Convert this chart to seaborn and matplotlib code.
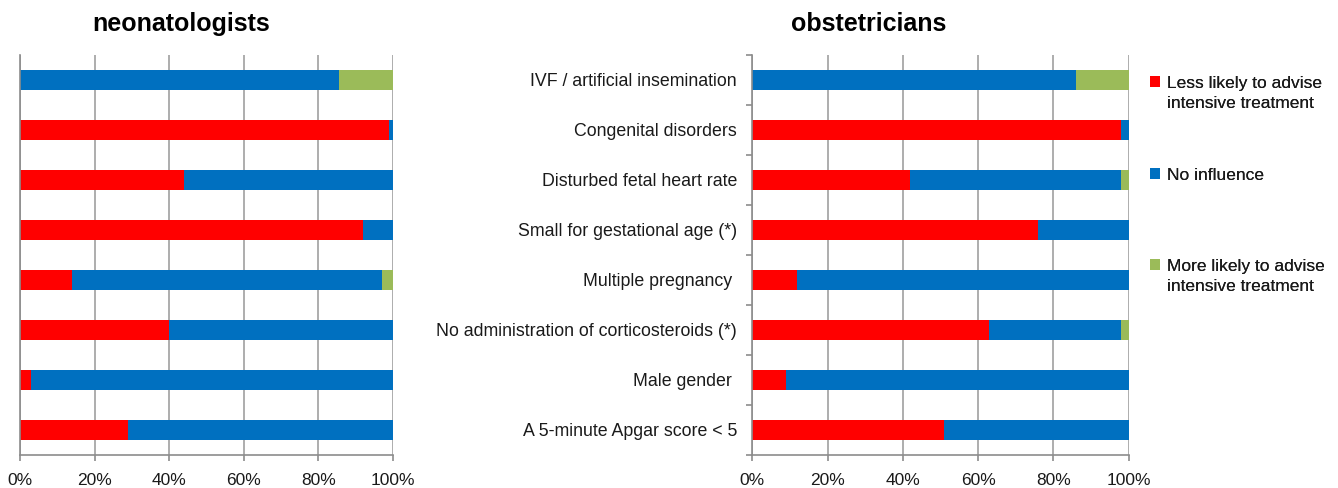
import numpy as np
import pandas as pd
import seaborn as sns
import matplotlib.pyplot as plt
from matplotlib.ticker import FixedLocator, PercentFormatter
from matplotlib.patches import Patch

factors = ["IVF / artificial insemination", "Congenital disorders",
           "Disturbed fetal heart rate", "Small for gestational age (*)",
           "Multiple pregnancy ", "No administration of corticosteroids (*)",
           "Male gender ", "A 5-minute Apgar score < 5"]

# percentages per answer, top to bottom
neo_less = [0, 99, 44, 92, 14, 40, 3, 29]
neo_none = [85.5, 1, 56, 8, 83, 60, 97, 71]
neo_more = [14.5, 0, 0, 0, 3, 0, 0, 0]

obs_less = [0, 98, 42, 76, 12, 63, 9, 51]
obs_none = [86, 2, 56, 24, 88, 35, 91, 49]
obs_more = [14, 0, 2, 0, 0, 2, 0, 0]

answers = ["Less likely to advise\nintensive treatment", "No influence",
           "More likely to advise\nintensive treatment"]
colors = ["#FF0000", "#0070C0", "#9BBB59"]

sns.set_theme(style="white")
plt.rcParams["font.family"] = ["Liberation Sans", "DejaVu Sans"]

fig = plt.figure(figsize=(13.38, 4.88), dpi=100)
ax_neo = fig.add_axes([20 / 1338, 1 - 455 / 488, 373 / 1338, 400 / 488])
ax_obs = fig.add_axes([752.3 / 1338, 1 - 455 / 488, 376.4 / 1338, 400 / 488])


def draw(ax, less, none, more, show_labels):
    df = pd.DataFrame({"factor": factors, "less": less, "none": none, "more": more})
    df["c1"] = df["less"]
    df["c2"] = df["less"] + df["none"]
    df["c3"] = df["c2"] + df["more"]
    # overlay cumulative bars: longest first
    for col, c in zip(["c3", "c2", "c1"], colors[::-1]):
        sns.barplot(data=df, x=col, y="factor", color=c, orient="h",
                    width=0.4, linewidth=0, saturation=1, ax=ax)
    ax.set_xlim(0, 100)
    ax.set_ylim(7.5, -0.5)
    ax.set_xlabel("")
    ax.set_ylabel("")
    ax.xaxis.set_major_locator(FixedLocator([0, 20, 40, 60, 80, 100]))
    ax.xaxis.set_major_formatter(PercentFormatter(100, decimals=0))
    ax.grid(axis="x", color="#A0A0A0", linewidth=1.2)
    ax.set_axisbelow(True)
    for s in ["top", "right"]:
        ax.spines[s].set_visible(False)
    for s in ["left", "bottom"]:
        ax.spines[s].set_color("#8C8C8C")
        ax.spines[s].set_linewidth(1.2)
    ax.tick_params(axis="x", bottom=True, length=4, width=1.2, color="#8C8C8C",
                   labelsize=12.5, labelcolor="#1a1a1a", pad=9)
    if show_labels:
        ax.yaxis.set_minor_locator(FixedLocator(np.arange(-0.5, 8, 1)))
        ax.tick_params(axis="y", which="minor", left=True, length=4, width=1.2,
                       color="#8C8C8C")
        ax.tick_params(axis="y", which="major", left=False, length=0,
                       labelsize=12.8, labelcolor="#1a1a1a", pad=11)
    else:
        ax.set_yticklabels([])
        ax.tick_params(axis="y", left=False, length=0)


draw(ax_neo, neo_less, neo_none, neo_more, False)
draw(ax_obs, obs_less, obs_none, obs_more, True)

fig.text(181 / 1338, 1 - 24 / 488, "neonatologists", ha="center", va="center",
         fontsize=18, fontweight="bold", color="black")
fig.text(869 / 1338, 1 - 24 / 488, "obstetricians", ha="center", va="center",
         fontsize=18, fontweight="bold", color="black")

# one legend per entry, square aligned with the first text line
legend_tops = [76, 168, 259]
fs = 12.5
ls = 1.43
for lab, c, top in zip(answers, colors, legend_tops):
    leg = fig.legend([Patch(facecolor=c, edgecolor="none")], [lab], loc="upper left",
                     bbox_to_anchor=(1150 / 1338, 1 - top / 488), frameon=False,
                     fontsize=fs, labelcolor="#1a1a1a", handlelength=0.6,
                     handleheight=0.6, handletextpad=0.4, borderpad=0,
                     borderaxespad=0)
    for t in leg.get_texts():
        t.set_linespacing(ls)
    n_lines = lab.count("\n") + 1
    if n_lines > 1:
        shift = 0.5 * (n_lines - 1) * ls * fs
        for p in leg.get_patches():
            p.set_y(p.get_y() + shift)
    fig.add_artist(leg)

fig.savefig("out.png", dpi=100)
